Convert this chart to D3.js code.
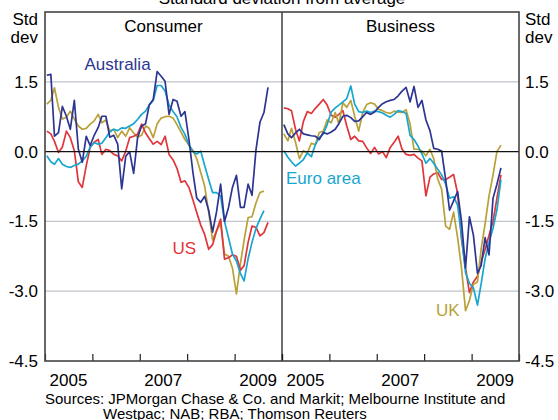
<!DOCTYPE html>
<html>
<head>
<meta charset="utf-8">
<script src="https://cdn.jsdelivr.net/npm/d3@7"></script>
<style>
  body { margin: 0; background: #fff; }
  svg { display: block; font-family: Arial, "Liberation Sans", sans-serif; }
</style>
</head>
<body>
<svg id="chart" width="558" height="420"></svg>
<script>
// monthly observations, Jan 2005 onwards
const consumerAustralia = [1.64, 1.66, 0.33, 0.41, 0.97, 0.76, 0.48, 1.10, 0.05, -0.23, 0.33, 0.13, 0.35, 0.52, 0.76, 0.76, 0.31, 0.35, 0.16, -0.80, -0.10, 0.00, -0.47, 0.29, 0.55, 0.60, 1.00, 1.12, 1.72, 1.62, 1.51, 0.80, 1.12, 1.08, 0.76, 0.86, 0.26, -0.45, -1.00, -1.09, -0.96, -1.26, -1.73, -1.29, -0.70, -1.50, -1.20, -0.77, -0.51, -1.20, -1.20, -0.70, -0.94, 0.05, 0.63, 0.84, 1.38];
const consumerUS = [0.44, 0.38, 0.22, -0.02, 0.10, 0.44, 0.30, 0.02, -0.65, -0.77, -0.30, 0.09, 0.20, 0.26, -0.06, 0.05, 0.02, -0.06, -0.09, -0.20, 0.01, 0.30, 0.33, 0.37, 0.59, 0.40, 0.28, 0.16, 0.22, 0.15, 0.33, -0.06, -0.18, -0.36, -0.66, -0.63, -0.77, -1.04, -1.31, -1.58, -1.78, -2.10, -2.00, -1.70, -1.45, -2.31, -2.28, -2.22, -2.25, -2.55, -2.45, -1.95, -1.60, -1.63, -1.81, -1.74, -1.52];
const consumerEuro = [-0.09, -0.22, -0.27, -0.15, -0.27, -0.32, -0.34, -0.30, -0.27, -0.20, -0.10, 0.10, 0.19, 0.16, 0.18, 0.30, 0.42, 0.48, 0.45, 0.51, 0.50, 0.55, 0.60, 0.69, 0.80, 0.87, 1.00, 1.10, 1.42, 1.42, 1.30, 1.00, 0.86, 0.75, 0.52, 0.37, 0.14, 0.00, -0.05, 0.01, -0.30, -0.60, -0.88, -0.88, -0.95, -1.50, -1.85, -2.20, -2.35, -2.62, -2.78, -2.30, -1.95, -1.65, -1.45, -1.27];
const consumerUK = [1.02, 1.10, 1.37, 0.95, 0.70, 0.74, 0.87, 0.70, 0.55, 0.48, 0.50, 0.59, 0.66, 0.80, 0.62, 0.68, 0.44, 0.48, 0.30, 0.44, 0.33, 0.51, 0.40, 0.31, 0.35, 0.55, 0.50, 0.30, 0.60, 0.72, 0.75, 0.76, 0.72, 0.58, 0.42, 0.26, 0.14, 0.02, -0.15, -0.45, -0.74, -1.30, -1.90, -1.70, -1.55, -2.20, -2.25, -2.50, -3.06, -2.40, -1.90, -1.42, -1.40, -1.10, -0.88, -0.85];

const businessAustralia = [0.58, 0.38, 0.30, 0.40, 0.48, 0.38, 0.36, 0.34, 0.33, 0.26, 0.41, 0.38, 0.42, 0.48, 0.60, 0.76, 0.78, 0.73, 0.65, 0.66, 0.75, 0.84, 0.80, 0.85, 0.95, 1.03, 1.07, 1.10, 1.12, 1.20, 1.30, 1.38, 1.07, 1.40, 0.95, 1.10, 0.68, 0.45, 0.07, 0.05, 0.01, -0.60, -1.26, -1.06, -0.86, -1.50, -2.50, -1.40, -1.80, -2.62, -2.45, -1.85, -2.22, -1.00, -0.70, -0.35];
const businessUS = [0.94, 0.92, 0.88, 0.48, 0.23, 0.65, 0.86, 0.82, 0.93, 1.02, 1.12, 1.00, 0.78, 0.74, 0.80, 0.88, 0.55, 0.26, 0.33, 0.23, 0.22, 0.08, -0.04, 0.09, -0.05, 0.00, -0.13, 0.09, 0.20, 0.33, 0.05, -0.06, -0.08, -0.06, -0.14, -0.20, -0.95, -0.55, -0.48, -0.45, -0.60, -0.60, -0.55, -0.49, -0.90, -1.88, -2.50, -3.03, -2.80, -2.68, -2.38, -2.10, -1.80, -1.50, -1.00, -0.50];
const businessEuro = [0.02, -0.12, -0.22, -0.31, -0.25, -0.17, -0.03, -0.11, 0.15, 0.30, 0.38, 0.58, 0.85, 0.94, 1.00, 1.07, 1.14, 1.41, 1.02, 0.86, 0.84, 0.87, 0.84, 0.87, 0.86, 0.83, 0.78, 0.74, 0.80, 0.88, 0.86, 0.82, 0.35, 0.26, 0.12, -0.05, -0.25, -0.15, -0.25, -0.38, -0.50, -0.70, -1.00, -0.97, -1.15, -1.80, -2.60, -2.83, -2.93, -3.30, -2.85, -2.30, -1.95, -1.65, -1.25, -0.60];
const businessUK = [0.38, 0.23, 0.50, 0.20, -0.15, 0.02, -0.03, 0.18, 0.15, 0.41, 0.44, 0.68, 0.62, 0.84, 0.60, 1.05, 0.95, 1.10, 0.76, 0.44, 0.84, 1.01, 1.05, 1.02, 0.91, 0.88, 0.84, 0.82, 0.87, 0.85, 0.84, 0.90, 0.59, 0.05, 0.05, 0.01, -0.09, 0.05, -0.15, -0.59, -0.81, -1.60, -1.67, -1.30, -1.85, -2.50, -3.42, -3.20, -2.85, -2.80, -2.10, -1.55, -0.95, -0.50, 0.00, 0.14];

const yTicks = [1.5, 0, -1.5, -3.0, -4.5];
const yearLabels = [2005, 2007, 2009];
const sourceLines = [
  "Sources: JPMorgan Chase & Co. and Markit; Melbourne Institute and",
  "Westpac; NAB; RBA; Thomson Reuters"
];

const colors = { Australia: "#2d3592", US: "#e0353a", "Euro area": "#17a6d0", UK: "#b9a138" };

const panels = [
  { title: "Consumer", series: [
      { name: "UK", values: consumerUK },
      { name: "US", values: consumerUS },
      { name: "Euro area", values: consumerEuro },
      { name: "Australia", values: consumerAustralia }],
    labels: [{ name: "Australia", date: new Date(Date.UTC(2005, 10, 1)), value: 1.75 },
             { name: "US", date: new Date(Date.UTC(2007, 8, 10)), value: -2.2 }] },
  { title: "Business", series: [
      { name: "US", values: businessUS },
      { name: "UK", values: businessUK },
      { name: "Euro area", values: businessEuro },
      { name: "Australia", values: businessAustralia }],
    labels: [{ name: "Euro area", date: new Date(Date.UTC(2005, 1, 1)), value: -0.7 },
             { name: "UK", date: new Date(Date.UTC(2008, 3, 1)), value: -3.53 }] }
];

const W = 558, H = 420;
const margin = { top: 12, right: 39, bottom: 59, left: 45 };
const innerW = W - margin.left - margin.right;
const panelW = innerW / 2;
const fontSize = 17;

const svg = d3.select("#chart");

const y = d3.scaleLinear().domain([-4.5, 3]).range([H - margin.bottom, margin.top]);
const x0 = new Date(Date.UTC(2005, 0, 1)), x1 = new Date(Date.UTC(2010, 0, 1));

// title, partly cut by the top edge
svg.append("text")
  .attr("x", margin.left + innerW / 2).attr("y", 4)
  .attr("text-anchor", "middle").attr("font-size", fontSize)
  .text("Standard deviation from average");

// horizontal grid
svg.append("g").selectAll("line")
  .data([1.5, -1.5, -3.0])
  .join("line")
  .attr("x1", margin.left).attr("x2", W - margin.right)
  .attr("y1", d => y(d)).attr("y2", d => y(d))
  .attr("stroke", "#bfc5cb").attr("stroke-width", 1.2);

panels.forEach((p, k) => {
  const left = margin.left + k * panelW;
  const x = d3.scaleUtc().domain([x0, x1]).range([left, left + panelW]);
  const g = svg.append("g");

  g.append("text")
    .attr("x", left + panelW / 2).attr("y", 32)
    .attr("text-anchor", "middle").attr("font-size", fontSize)
    .text(p.title);

  const line = d3.line()
    .x((d, i) => x(new Date(Date.UTC(2005, i, 15))))
    .y(d => y(d));

  g.selectAll("path.series")
    .data(p.series)
    .join("path")
    .attr("class", "series")
    .attr("d", d => line(d.values))
    .attr("fill", "none")
    .attr("stroke", d => colors[d.name])
    .attr("stroke-width", 1.7)
    .attr("stroke-linejoin", "round");

  g.selectAll("text.lbl")
    .data(p.labels)
    .join("text")
    .attr("class", "lbl")
    .attr("x", d => x(d.date)).attr("y", d => y(d.value))
    .attr("font-size", fontSize)
    .attr("fill", d => colors[d.name])
    .text(d => d.name);

  // bottom axis: ticks at year boundaries, labels mid-year
  const xAxis = d3.axisBottom(x)
    .ticks(d3.utcYear.every(1))
    .tickSizeInner(-7).tickSizeOuter(0)
    .tickFormat("");
  const ax = svg.append("g")
    .attr("transform", `translate(0,${H - margin.bottom})`)
    .call(xAxis);
  ax.select(".domain").remove();
  ax.selectAll("line").attr("stroke", "#222").attr("stroke-width", 1.2);

  svg.append("g").selectAll("text")
    .data(yearLabels)
    .join("text")
    .attr("x", d => x(new Date(Date.UTC(d, 6, 1))))
    .attr("y", H - margin.bottom + 25)
    .attr("text-anchor", "middle").attr("font-size", fontSize)
    .text(d => d);
});

// zero line
svg.append("line")
  .attr("x1", margin.left).attr("x2", W - margin.right)
  .attr("y1", y(0)).attr("y2", y(0))
  .attr("stroke", "#111").attr("stroke-width", 1.2);

// panel divider
svg.append("line")
  .attr("x1", margin.left + panelW).attr("x2", margin.left + panelW)
  .attr("y1", margin.top).attr("y2", H - margin.bottom)
  .attr("stroke", "#111").attr("stroke-width", 1.2);

// frame
svg.append("rect")
  .attr("x", margin.left).attr("y", margin.top)
  .attr("width", innerW).attr("height", H - margin.top - margin.bottom)
  .attr("fill", "none").attr("stroke", "#444").attr("stroke-width", 1.6);

// y tick labels on both sides
const fmt = d => d.toFixed(1);
svg.append("g").selectAll("text")
  .data(yTicks).join("text")
  .attr("x", margin.left - 7).attr("y", d => y(d) + 6)
  .attr("text-anchor", "end").attr("font-size", fontSize)
  .text(fmt);
svg.append("g").selectAll("text")
  .data(yTicks).join("text")
  .attr("x", W - margin.right + 6).attr("y", d => y(d) + 6)
  .attr("text-anchor", "start").attr("font-size", fontSize)
  .text(fmt);

[["Std", 25], ["dev", 43]].forEach(([t, yy]) => {
  svg.append("text").attr("x", margin.left - 7).attr("y", yy)
    .attr("text-anchor", "end").attr("font-size", fontSize).text(t);
  svg.append("text").attr("x", W - margin.right + 6).attr("y", yy)
    .attr("text-anchor", "start").attr("font-size", fontSize).text(t);
});

svg.append("g").selectAll("text")
  .data(sourceLines).join("text")
  .attr("x", (d, i) => i === 0 ? margin.left : 103)
  .attr("y", (d, i) => 404 + i * 15)
  .attr("font-size", 15)
  .text(d => d);
</script>
</body>
</html>
